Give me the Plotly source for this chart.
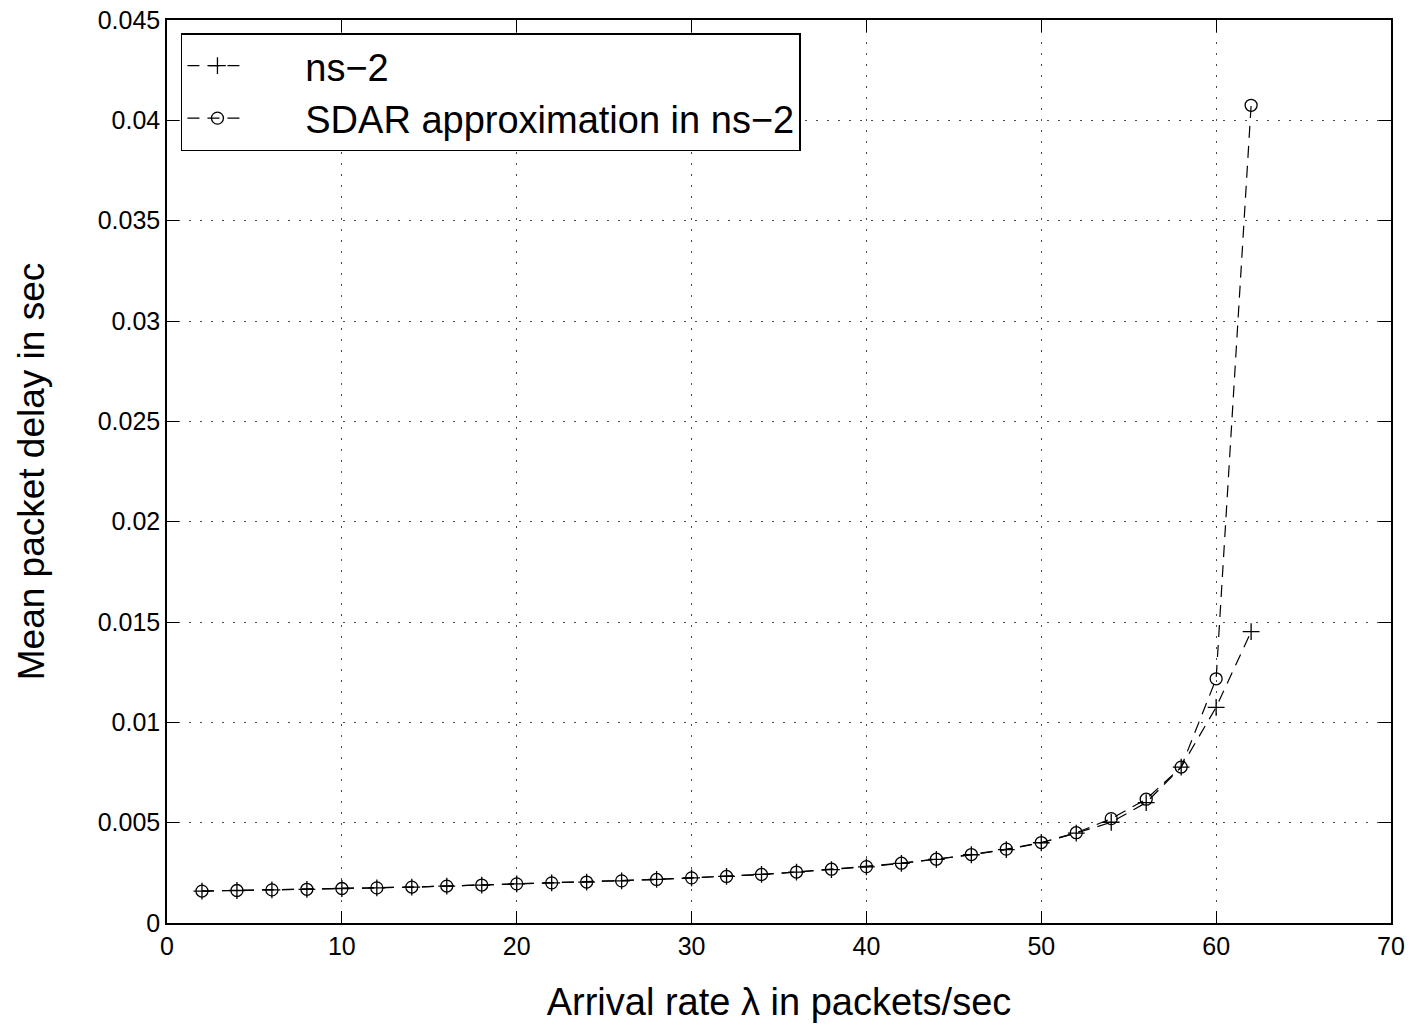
import plotly.graph_objects as go

arrival_rate = [2, 4, 6, 8, 10, 12, 14, 16, 18, 20, 22, 24, 26, 28, 30, 32,
                34, 36, 38, 40, 42, 44, 46, 48, 50, 52, 54, 56, 58, 60, 62]
ns2_delay = [0.00159, 0.00162, 0.00165, 0.00168, 0.00172, 0.00175, 0.00179, 0.00184,
             0.00189, 0.00195, 0.00200, 0.00204, 0.00210, 0.00217, 0.00225, 0.00232,
             0.00242, 0.00254, 0.00266, 0.00280, 0.00297, 0.00317, 0.00340, 0.00366,
             0.00400, 0.00448, 0.00502, 0.00600, 0.00777, 0.01075, 0.01452]
sdar_delay = [0.00159, 0.00162, 0.00165, 0.00168, 0.00172, 0.00175, 0.00179, 0.00184,
              0.00189, 0.00195, 0.00200, 0.00204, 0.00210, 0.00217, 0.00225, 0.00232,
              0.00242, 0.00254, 0.00268, 0.00281, 0.00298, 0.00318, 0.00341, 0.00368,
              0.00401, 0.00450, 0.00520, 0.00617, 0.00777, 0.01217, 0.04075]

font = "Liberation Sans, Arial, sans-serif"
dash = "12px,8px"
pad = "\u00a0" * 5

fig = go.Figure()
fig.add_trace(go.Scatter(
    x=arrival_rate, y=ns2_delay, name=pad + "ns\u22122", mode="lines+markers",
    line=dict(color="black", width=1.2, dash=dash),
    marker=dict(symbol="cross-thin-open", size=12, color="black",
                line=dict(color="black", width=1.3)),
))
fig.add_trace(go.Scatter(
    x=arrival_rate, y=sdar_delay, name=pad + "SDAR approximation in ns\u22122",
    mode="lines+markers",
    line=dict(color="black", width=1.2, dash=dash),
    marker=dict(symbol="circle-open", size=12, color="black",
                line=dict(color="black", width=1.3)),
))

axis_common = dict(
    showline=True, linecolor="black", linewidth=1.5, mirror="ticks",
    ticks="inside", ticklen=12, tickwidth=1.3, tickcolor="black",
    showgrid=True, gridcolor="rgba(0,0,0,0.7)", gridwidth=1, griddash="2px,9px",
    zeroline=False, tickfont=dict(family=font, size=25, color="black"),
    ticklabeloverflow="allow", automargin=False,
)

fig.update_layout(
    width=1412, height=1029,
    margin=dict(l=167, r=21, t=20, b=106),
    plot_bgcolor="white", paper_bgcolor="white",
    font=dict(family=font, color="black"),
    showlegend=True,
    legend=dict(
        x=0.0114, y=0.9856, xanchor="left", yanchor="top",
        bgcolor="white", bordercolor="black", borderwidth=1.5,
        font=dict(family=font, size=38, color="black"),
        itemwidth=60, tracegroupgap=0,
    ),
    xaxis=dict(range=[0, 70], dtick=10,
               title=dict(text="Arrival rate \u03bb in packets/sec",
                          font=dict(family=font, size=38, color="black"), standoff=30),
               **axis_common),
    yaxis=dict(range=[0, 0.045], dtick=0.005, tickformat="~g",
               title=dict(text="Mean packet delay in sec",
                          font=dict(family=font, size=37, color="black"), standoff=42),
               **axis_common),
)

fig.write_html("out.html",
               config={"displayModeBar": False},
               post_script="document.body.style.margin='0';document.body.style.overflow='hidden';")
